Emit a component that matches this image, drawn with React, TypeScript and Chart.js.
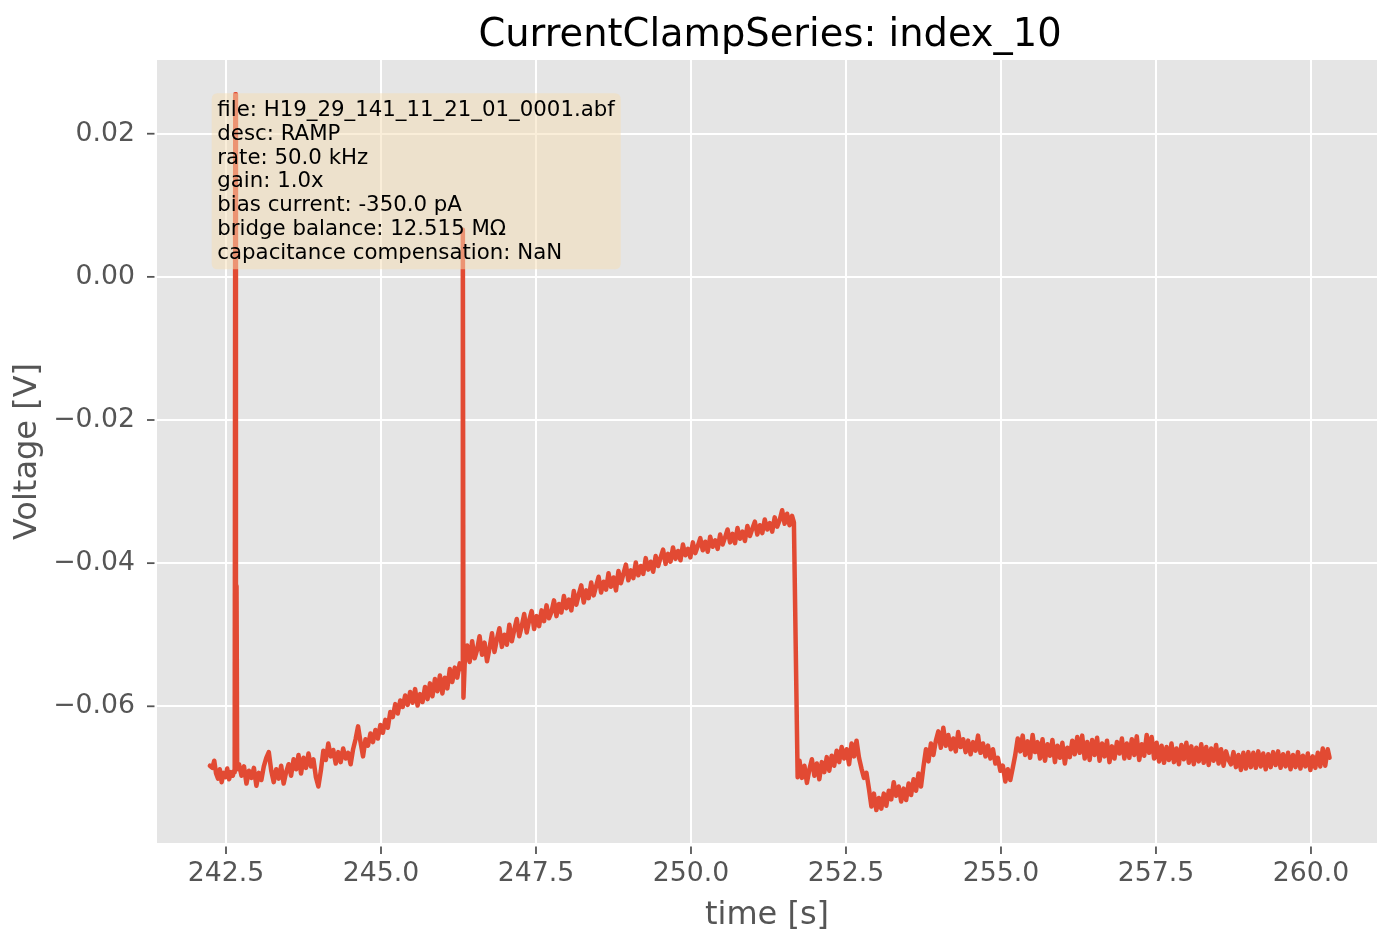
import React, { useEffect, useRef } from "react";
import { Chart, registerables } from "chart.js";

Chart.register(...registerables);

// ---- data (time [s], voltage [V]) ----
const restBefore: [number, number][] = [
  [242.24, -0.0683], [242.28, -0.0686], [242.31, -0.0676], [242.34, -0.0694], [242.37, -0.0701],
  [242.40, -0.0688], [242.43, -0.0706], [242.46, -0.0693], [242.49, -0.0699], [242.52, -0.0687],
  [242.55, -0.0702], [242.58, -0.0692], [242.61, -0.0697], [242.63, -0.0690],
];

const firstSpikes: [number, number][] = [
  [242.64, -0.0692], [242.65, 0.0255], [242.66, -0.0685], [242.67, -0.0432], [242.68, -0.0688],
];

const earlyRamp: [number, number][] = [
  [242.71, -0.0681], [242.75, -0.0697], [242.79, -0.0684], [242.83, -0.0708], [242.87, -0.0690],
  [242.91, -0.0700], [242.95, -0.0686], [242.99, -0.0711], [243.03, -0.0693], [243.07, -0.0703],
  [243.11, -0.0684], [243.15, -0.0672], [243.19, -0.0664], [243.23, -0.0690], [243.27, -0.0706],
  [243.31, -0.0688], [243.35, -0.0701], [243.39, -0.0683], [243.43, -0.0708], [243.47, -0.0692],
  [243.51, -0.0681], [243.55, -0.0697], [243.59, -0.0674], [243.63, -0.0688], [243.67, -0.0668],
  [243.71, -0.0694], [243.75, -0.0672], [243.79, -0.0686], [243.83, -0.0666], [243.87, -0.0684],
  [243.91, -0.0674], [243.95, -0.0699], [243.99, -0.0712], [244.03, -0.0690], [244.07, -0.0662],
  [244.11, -0.0675], [244.15, -0.0652], [244.19, -0.0670], [244.23, -0.0661], [244.27, -0.0680],
  [244.31, -0.0664], [244.35, -0.0678], [244.39, -0.0659], [244.43, -0.0673], [244.47, -0.0665],
  [244.51, -0.0681], [244.55, -0.0660], [244.59, -0.0646], [244.63, -0.0628], [244.67, -0.0650],
  [244.71, -0.0670], [244.75, -0.0646], [244.79, -0.0655], [244.83, -0.0638], [244.87, -0.0650],
  [244.91, -0.0633], [244.95, -0.0645], [244.99, -0.0626], [245.03, -0.0637], [245.07, -0.0619],
  [245.11, -0.0630], [245.15, -0.0608], [245.19, -0.0615], [245.23, -0.0597], [245.27, -0.0610],
  [245.31, -0.0592], [245.35, -0.0601], [245.39, -0.0585], [245.43, -0.0598], [245.47, -0.0580],
  [245.51, -0.0595], [245.55, -0.0576], [245.59, -0.0599], [245.63, -0.0583], [245.67, -0.0594],
  [245.71, -0.0573], [245.75, -0.0590], [245.79, -0.0568], [245.83, -0.0586], [245.87, -0.0562],
  [245.91, -0.0579], [245.95, -0.0557], [245.99, -0.0582], [246.03, -0.0560], [246.07, -0.0575],
  [246.11, -0.0548], [246.15, -0.0566], [246.19, -0.0546], [246.23, -0.0560], [246.27, -0.0540],
  [246.30, -0.0548],
];

const secondSpike: [number, number][] = [
  [246.31, -0.0545], [246.32, 0.0066], [246.33, -0.0588], [246.35, -0.0540],
];

const lateRamp: [number, number][] = [
  [246.39, -0.0515], [246.43, -0.0538], [246.47, -0.0509], [246.51, -0.0533], [246.55, -0.0521],
  [246.59, -0.0502], [246.63, -0.0528], [246.67, -0.0511], [246.71, -0.0537], [246.75, -0.0519],
  [246.79, -0.0498], [246.83, -0.0524], [246.87, -0.0506], [246.91, -0.0491], [246.95, -0.0517],
  [246.99, -0.0500], [247.03, -0.0514], [247.07, -0.0486], [247.11, -0.0509], [247.15, -0.0493],
  [247.19, -0.0478], [247.23, -0.0502], [247.27, -0.0488], [247.31, -0.0471], [247.35, -0.0497],
  [247.39, -0.0480], [247.43, -0.0467], [247.47, -0.0492], [247.51, -0.0474], [247.55, -0.0488],
  [247.59, -0.0466], [247.63, -0.0481], [247.67, -0.0459], [247.71, -0.0477], [247.75, -0.0468],
  [247.79, -0.0452], [247.83, -0.0474], [247.87, -0.0457], [247.91, -0.0469], [247.95, -0.0446],
  [247.99, -0.0463], [248.03, -0.0451], [248.07, -0.0466], [248.11, -0.0439], [248.15, -0.0458],
  [248.19, -0.0444], [248.23, -0.0431], [248.27, -0.0455], [248.31, -0.0438], [248.35, -0.0449],
  [248.39, -0.0427], [248.43, -0.0445], [248.47, -0.0432], [248.51, -0.0419], [248.55, -0.0441],
  [248.59, -0.0426], [248.63, -0.0437], [248.67, -0.0414], [248.71, -0.0433], [248.75, -0.0420],
  [248.79, -0.0438], [248.83, -0.0411], [248.87, -0.0428], [248.91, -0.0415], [248.95, -0.0402],
  [248.99, -0.0424], [249.03, -0.0410], [249.07, -0.0421], [249.11, -0.0399], [249.15, -0.0417],
  [249.19, -0.0404], [249.23, -0.0415], [249.27, -0.0393], [249.31, -0.0409], [249.35, -0.0398],
  [249.39, -0.0412], [249.43, -0.0390], [249.47, -0.0404], [249.51, -0.0392], [249.55, -0.0381],
  [249.59, -0.0401], [249.63, -0.0387], [249.67, -0.0398], [249.71, -0.0378], [249.75, -0.0394],
  [249.79, -0.0383], [249.83, -0.0396], [249.87, -0.0374], [249.91, -0.0389], [249.95, -0.0380],
  [249.99, -0.0392], [250.03, -0.0371], [250.07, -0.0386], [250.11, -0.0376], [250.15, -0.0365],
  [250.19, -0.0382], [250.23, -0.0370], [250.27, -0.0384], [250.31, -0.0363], [250.35, -0.0377],
  [250.39, -0.0368], [250.43, -0.0380], [250.47, -0.0360], [250.51, -0.0374], [250.55, -0.0364],
  [250.59, -0.0353], [250.63, -0.0371], [250.67, -0.0359], [250.71, -0.0372], [250.75, -0.0351],
  [250.79, -0.0366], [250.83, -0.0356], [250.87, -0.0369], [250.91, -0.0348], [250.95, -0.0362],
  [250.99, -0.0352], [251.03, -0.0342], [251.07, -0.0360], [251.11, -0.0347], [251.15, -0.0358],
  [251.19, -0.0339], [251.23, -0.0353], [251.27, -0.0344], [251.31, -0.0356], [251.35, -0.0336],
  [251.39, -0.0349], [251.43, -0.0340], [251.47, -0.0326], [251.51, -0.0345], [251.55, -0.0331],
  [251.59, -0.0347], [251.63, -0.0334], [251.66, -0.0343],
];

const afterStep: [number, number][] = [
  [251.72, -0.0699], [251.75, -0.0676], [251.79, -0.0700], [251.83, -0.0683], [251.87, -0.0707],
  [251.91, -0.0688], [251.95, -0.0674], [251.99, -0.0697], [252.03, -0.0680], [252.07, -0.0702],
  [252.11, -0.0678], [252.15, -0.0692], [252.19, -0.0671], [252.23, -0.0690], [252.27, -0.0669],
  [252.31, -0.0683], [252.35, -0.0662], [252.39, -0.0678], [252.43, -0.0657], [252.47, -0.0673],
  [252.51, -0.0660], [252.55, -0.0681], [252.59, -0.0652], [252.63, -0.0670], [252.67, -0.0648],
  [252.71, -0.0672], [252.75, -0.0687], [252.79, -0.0700], [252.83, -0.0693], [252.87, -0.0715],
  [252.91, -0.0740], [252.95, -0.0722], [252.99, -0.0745], [253.03, -0.0728], [253.07, -0.0743],
  [253.11, -0.0722], [253.15, -0.0739], [253.19, -0.0718], [253.23, -0.0730], [253.27, -0.0706],
  [253.31, -0.0725], [253.35, -0.0712], [253.39, -0.0733], [253.43, -0.0715], [253.47, -0.0731],
  [253.51, -0.0708], [253.55, -0.0724], [253.59, -0.0702], [253.63, -0.0718], [253.67, -0.0694],
  [253.71, -0.0712], [253.75, -0.0684], [253.79, -0.0660], [253.83, -0.0677], [253.87, -0.0652],
  [253.91, -0.0668], [253.95, -0.0648], [253.99, -0.0635], [254.03, -0.0658], [254.07, -0.0630],
  [254.11, -0.0655], [254.15, -0.0640], [254.19, -0.0660], [254.23, -0.0645], [254.27, -0.0663],
  [254.31, -0.0636], [254.35, -0.0657], [254.39, -0.0646], [254.43, -0.0664], [254.47, -0.0648],
  [254.51, -0.0667], [254.55, -0.0650], [254.59, -0.0662], [254.63, -0.0641], [254.67, -0.0665],
  [254.71, -0.0652], [254.75, -0.0670], [254.79, -0.0655], [254.83, -0.0673], [254.87, -0.0660],
  [254.91, -0.0680], [254.95, -0.0672], [254.99, -0.0690], [255.03, -0.0683], [255.07, -0.0705],
  [255.11, -0.0688], [255.15, -0.0703], [255.19, -0.0686], [255.23, -0.0668],
];

const plateau: [number, number][] = [
  [255.27, -0.0645], [255.31, -0.0663], [255.35, -0.0641], [255.39, -0.0668], [255.43, -0.0649],
  [255.47, -0.0672], [255.51, -0.0640], [255.55, -0.0664], [255.59, -0.0650], [255.63, -0.0673],
  [255.67, -0.0646], [255.71, -0.0676], [255.75, -0.0653], [255.79, -0.0669], [255.83, -0.0647],
  [255.87, -0.0678], [255.91, -0.0655], [255.95, -0.0672], [255.99, -0.0651], [256.03, -0.0680],
  [256.07, -0.0658], [256.11, -0.0671], [256.15, -0.0648], [256.19, -0.0667], [256.23, -0.0643],
  [256.27, -0.0665], [256.31, -0.0641], [256.35, -0.0673], [256.39, -0.0650], [256.43, -0.0675],
  [256.47, -0.0647], [256.51, -0.0668], [256.55, -0.0644], [256.59, -0.0676], [256.63, -0.0652],
  [256.67, -0.0670], [256.71, -0.0648], [256.75, -0.0678], [256.79, -0.0656], [256.83, -0.0673],
  [256.87, -0.0650], [256.91, -0.0666], [256.95, -0.0645], [256.99, -0.0673], [257.03, -0.0652],
  [257.07, -0.0672], [257.11, -0.0646], [257.15, -0.0668], [257.19, -0.0642], [257.23, -0.0675],
  [257.27, -0.0653], [257.31, -0.0669], [257.35, -0.0640], [257.39, -0.0665], [257.43, -0.0643],
  [257.47, -0.0673], [257.51, -0.0651], [257.55, -0.0677], [257.59, -0.0655], [257.63, -0.0679],
  [257.67, -0.0657], [257.71, -0.0675], [257.75, -0.0652], [257.79, -0.0678], [257.83, -0.0659],
  [257.87, -0.0681], [257.91, -0.0654], [257.95, -0.0674], [257.99, -0.0651], [258.03, -0.0679],
  [258.07, -0.0656], [258.11, -0.0681], [258.15, -0.0658], [258.19, -0.0677], [258.23, -0.0653],
  [258.27, -0.0679], [258.31, -0.0657], [258.35, -0.0682], [258.39, -0.0659], [258.43, -0.0676],
  [258.47, -0.0654], [258.51, -0.0680], [258.55, -0.0660], [258.59, -0.0683], [258.63, -0.0663],
  [258.67, -0.0675], [258.71, -0.0681], [258.75, -0.0664], [258.79, -0.0685], [258.83, -0.0668],
  [258.87, -0.0689], [258.91, -0.0665], [258.95, -0.0687], [258.99, -0.0664], [259.03, -0.0685],
  [259.07, -0.0665], [259.11, -0.0686], [259.15, -0.0663], [259.19, -0.0684], [259.23, -0.0666],
  [259.27, -0.0688], [259.31, -0.0667], [259.35, -0.0685], [259.39, -0.0664], [259.43, -0.0682],
  [259.47, -0.0663], [259.51, -0.0686], [259.55, -0.0667], [259.59, -0.0684], [259.63, -0.0665],
  [259.67, -0.0688], [259.71, -0.0668], [259.75, -0.0685], [259.79, -0.0664], [259.83, -0.0687],
  [259.87, -0.0669], [259.91, -0.0684], [259.95, -0.0666], [259.99, -0.0689], [260.03, -0.0670],
  [260.07, -0.0686], [260.11, -0.0665], [260.15, -0.0684], [260.19, -0.0659], [260.23, -0.0683],
  [260.27, -0.0660], [260.30, -0.0672],
];

const chartTitle = "CurrentClampSeries: index_10";
const xAxisLabel = "time [s]";
const yAxisLabel = "Voltage [V]";
const infoLines = [
  "file: H19_29_141_11_21_01_0001.abf",
  "desc: RAMP",
  "rate: 50.0 kHz",
  "gain: 1.0x",
  "bias current: -350.0 pA",
  "bridge balance: 12.515 MΩ",
  "capacitance compensation: NaN",
];
const xRange = [241.387, 261.065];
const yRange = [-0.0791, 0.0303];
const xStep = 2.5;
const yStep = 0.02;

const FONT = "'DejaVu Sans', 'Liberation Sans', sans-serif";

const decorPlugin = {
  id: "decor",
  beforeDraw(chart: any) {
    const { ctx, chartArea } = chart;
    ctx.save();
    ctx.fillStyle = "#ffffff";
    ctx.fillRect(0, 0, chart.width, chart.height);
    ctx.fillStyle = "#E5E5E5";
    ctx.fillRect(chartArea.left, chartArea.top, chartArea.right - chartArea.left, chartArea.bottom - chartArea.top);
    ctx.restore();
  },
  afterDatasetsDraw(chart: any) {
    const { ctx } = chart;
    ctx.save();
    // info box
    const bx = 211.7, by = 93.3, bw = 409, bh = 176, r = 6;
    ctx.beginPath();
    ctx.moveTo(bx + r, by);
    ctx.lineTo(bx + bw - r, by);
    ctx.quadraticCurveTo(bx + bw, by, bx + bw, by + r);
    ctx.lineTo(bx + bw, by + bh - r);
    ctx.quadraticCurveTo(bx + bw, by + bh, bx + bw - r, by + bh);
    ctx.lineTo(bx + r, by + bh);
    ctx.quadraticCurveTo(bx, by + bh, bx, by + bh - r);
    ctx.lineTo(bx, by + r);
    ctx.quadraticCurveTo(bx, by, bx + r, by);
    ctx.closePath();
    ctx.fillStyle = "rgba(245,222,179,0.5)";
    ctx.fill();
    ctx.fillStyle = "#000000";
    ctx.font = `21.3px ${FONT}`;
    ctx.textAlign = "left";
    ctx.textBaseline = "alphabetic";
    infoLines.forEach((line, i) => {
      ctx.fillText(line, 217.3, 115.7 + i * 23.9);
    });
    ctx.restore();
  },
  afterDraw(chart: any) {
    const { ctx, chartArea, scales } = chart;
    ctx.save();
    // title
    ctx.fillStyle = "#000000";
    ctx.font = `38.4px ${FONT}`;
    ctx.textAlign = "center";
    ctx.textBaseline = "alphabetic";
    ctx.fillText(chartTitle, 770, 46);
    // tick marks
    ctx.strokeStyle = "#555555";
    ctx.lineWidth = 1.8;
    scales.x.ticks.forEach((t: any) => {
      const px = scales.x.getPixelForValue(t.value);
      ctx.beginPath();
      ctx.moveTo(px, chartArea.bottom + 3.5);
      ctx.lineTo(px, chartArea.bottom + 11);
      ctx.stroke();
    });
    scales.y.ticks.forEach((t: any) => {
      const py = scales.y.getPixelForValue(t.value);
      ctx.beginPath();
      ctx.moveTo(chartArea.left - 10, py);
      ctx.lineTo(chartArea.left - 2.5, py);
      ctx.stroke();
    });
    ctx.restore();
  },
};

export default function App() {
  const canvasRef = useRef<HTMLCanvasElement | null>(null);

  useEffect(() => {
    const canvas = canvasRef.current;
    if (!canvas) return;
    const points = [
      ...restBefore, ...firstSpikes, ...earlyRamp, ...secondSpike,
      ...lateRamp, ...afterStep, ...plateau,
    ].map(([x, y]) => ({ x, y }));

    const chart = new Chart(canvas, {
      type: "line",
      data: {
        datasets: [
          {
            data: points,
            borderColor: "#E24A33",
            borderWidth: 4.5,
            pointRadius: 0,
            tension: 0,
            fill: false,
            borderJoinStyle: "round",
            borderCapStyle: "round",
          },
        ],
      },
      options: {
        responsive: false,
        animation: false,
        devicePixelRatio: 1,
        layout: { padding: { top: 60, left: 0, right: 1, bottom: 0 } },
        plugins: {
          legend: { display: false },
          tooltip: { enabled: false },
          title: { display: false },
        },
        scales: {
          x: {
            type: "linear",
            min: xRange[0],
            max: xRange[1],
            afterFit: (s: any) => { s.height = 89; },
            grid: { color: "#ffffff", lineWidth: 2, drawTicks: false },
            border: { display: false },
            ticks: {
              stepSize: xStep,
              includeBounds: false,
              padding: 15,
              color: "#555555",
              font: { family: FONT, size: 26.7 },
              callback: (v: any) => Number(v).toFixed(1),
              maxRotation: 0,
              autoSkip: false,
            },
            title: {
              display: true,
              text: xAxisLabel,
              color: "#555555",
              font: { family: FONT, size: 32 },
              padding: { top: 0, bottom: -3 },
            },
          },
          y: {
            type: "linear",
            min: yRange[0],
            max: yRange[1],
            afterFit: (s: any) => { s.width = 157; },
            grid: { color: "#ffffff", lineWidth: 2, drawTicks: false },
            border: { display: false },
            ticks: {
              stepSize: yStep,
              includeBounds: false,
              padding: 22,
              color: "#555555",
              font: { family: FONT, size: 26.7 },
              callback: (v: any) => Number(v).toFixed(2).replace("-", "\u2212"),
              autoSkip: false,
            },
            title: {
              display: true,
              text: yAxisLabel,
              color: "#555555",
              font: { family: FONT, size: 32 },
              padding: { top: 8, bottom: 0 },
            },
          },
        },
      },
      plugins: [decorPlugin],
    } as any);

    return () => chart.destroy();
  }, []);

  return (
    <div style={{ position: "absolute", left: 0, top: 0, width: 1378, height: 932, background: "#fff" }}>
      <canvas ref={canvasRef} width={1378} height={932} style={{ display: "block" }} />
    </div>
  );
}
